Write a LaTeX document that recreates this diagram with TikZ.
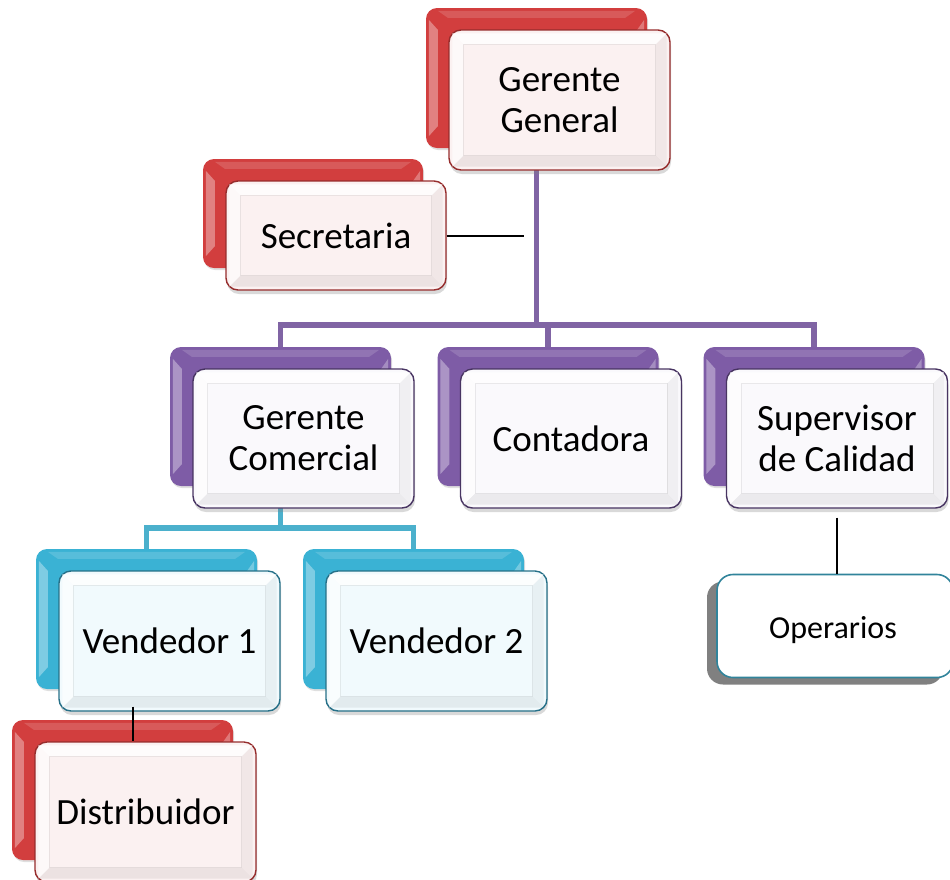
\documentclass[tikz,border=0pt]{standalone}
\usepackage{fontspec}
\setmainfont{Carlito}
\usetikzlibrary{calc,shadows}

\definecolor{redback}{RGB}{210,62,62}
\definecolor{redline}{RGB}{150,45,45}
\definecolor{redfill}{RGB}{251,241,241}
\definecolor{purpback}{RGB}{126,92,166}
\definecolor{purpline}{RGB}{72,52,98}
\definecolor{purpfill}{RGB}{250,249,252}
\definecolor{cyanback}{RGB}{58,178,212}
\definecolor{cyanline}{RGB}{38,112,136}
\definecolor{cyanfill}{RGB}{241,250,253}
\definecolor{opline}{RGB}{49,132,155}
\definecolor{linkpurple}{RGB}{128,100,164}
\definecolor{linkcyan}{RGB}{75,176,204}

\pgfdeclarelayer{links}
\pgfsetlayers{links,main}

\tikzset{
  plate/.style={rectangle, rounded corners=11pt, inner sep=0pt, draw=none,
    drop shadow={shadow xshift=1pt, shadow yshift=-2pt, opacity=0.25}},
  card/.style={rectangle, rounded corners=12pt, inner sep=0pt, line width=1.4pt,
    drop shadow={shadow xshift=1pt, shadow yshift=-4pt, opacity=0.3}},
  cardtext/.style={align=center, inner sep=0pt, font=\fontsize{37}{41}\selectfont},
  smallcard/.style={rectangle, rounded corners=16pt, inner sep=0pt, line width=1.6pt,
    draw=opline, fill=white,
    drop shadow={shadow xshift=-10pt, shadow yshift=-7pt, opacity=1, fill=black!50}},
  smalltext/.style={inner sep=0pt, font=\fontsize{32}{36}\selectfont},
  trunk/.style={line width=5.5pt, linkpurple},
  branch/.style={line width=5.5pt, linkcyan},
  tie/.style={line width=1.5pt, black},
}

% raised edge inside a card: light top/left, shaded bottom/right
\newcommand\cardbevel[1]{%
  \fill[white, opacity=0.8] ($(#1.north west)+(4,4)$) -- ($(#1.north east)+(-4,4)$)
    -- ($(#1.north east)+(-15,15)$) -- ($(#1.north west)+(15,15)$) -- cycle;
  \fill[white, opacity=0.6] ($(#1.north west)+(4,4)$) -- ($(#1.south west)+(4,-4)$)
    -- ($(#1.south west)+(15,-15)$) -- ($(#1.north west)+(15,15)$) -- cycle;
  \fill[black, opacity=0.06] ($(#1.south west)+(4,-4)$) -- ($(#1.south east)+(-4,-4)$)
    -- ($(#1.south east)+(-15,-15)$) -- ($(#1.south west)+(15,-15)$) -- cycle;
  \fill[black, opacity=0.04] ($(#1.north east)+(-4,4)$) -- ($(#1.south east)+(-4,-4)$)
    -- ($(#1.south east)+(-15,-15)$) -- ($(#1.north east)+(-15,15)$) -- cycle;
  \draw[black, opacity=0.07, line width=0.6pt] ($(#1.north west)+(15,15)$) rectangle ($(#1.south east)+(-15,-15)$);
}

% glossy edge on a coloured plate
\newcommand\platebevel[1]{%
  \fill[white, opacity=0.35] ($(#1.north west)+(3,12)$) -- ($(#1.north west)+(12,22)$)
    -- ($(#1.south west)+(12,-22)$) -- ($(#1.south west)+(3,-12)$) -- cycle;
  \fill[white, opacity=0.3] ($(#1.north east)+(-3,12)$) -- ($(#1.north east)+(-10,22)$)
    -- ($(#1.south east)+(-10,-22)$) -- ($(#1.south east)+(-3,-12)$) -- cycle;
  \fill[white, opacity=0.15] ($(#1.north west)+(12,3)$) -- ($(#1.north east)+(-12,3)$)
    -- ($(#1.north east)+(-22,10)$) -- ($(#1.north west)+(22,10)$) -- cycle;
}

% #1 name, #2 x, #3 y, #4 width, #5 height, #6 plate, #7 border, #8 fill, #9 text
\newcommand\orgunit[9]{%
  \node[plate, fill=#6, minimum width=#4pt, minimum height=#5pt] (#1-back) at (#2-23,#3-22) {};
  \platebevel{#1-back}
  \node[card, draw=#7, fill=#8, minimum width=#4pt, minimum height=#5pt] (#1) at (#2,#3) {};
  \cardbevel{#1}
  \node[cardtext] (#1-label) at (#1) {#9};
}

\begin{document}
\begin{tikzpicture}[x=1pt, y=-1pt]
  \useasboundingbox (0,0) rectangle (950,879);

  % units, top to bottom
  \orgunit{gg}{559.5}{100}{221}{140}{redback}{redline}{redfill}{Gerente\\General}
  \orgunit{sec}{336}{235.5}{220}{109}{redback}{redline}{redfill}{Secretaria}
  \orgunit{gc}{303.5}{438.5}{221}{139}{purpback}{purpline}{purpfill}{Gerente\\Comercial}
  \orgunit{con}{571}{438.5}{221}{139}{purpback}{purpline}{purpfill}{Contadora}
  \orgunit{sup}{837}{438.5}{221}{139}{purpback}{purpline}{purpfill}{Supervisor\\de Calidad}
  \orgunit{v1}{169.5}{641}{221}{140}{cyanback}{cyanline}{cyanfill}{Vendedor 1}
  \orgunit{v2}{436.5}{641}{221}{140}{cyanback}{cyanline}{cyanfill}{Vendedor 2}
  \orgunit{dis}{145.5}{812}{221}{140}{redback}{redline}{redfill}{Distribuidor}

  \node[smallcard, minimum width=236pt, minimum height=103pt] (op) at (835,626) {};
  \node[smalltext] (op-label) at (833,630) {Operarios};

  % connectors behind the units
  \begin{pgfonlayer}{links}
    \draw[trunk] (gg-back.south) -- (gg-back.south |- 0,325);
    \draw[trunk, line join=miter] (gc-back.north) -- (gc-back.north |- 0,325)
      -- (sup-back.north |- 0,325) -- (sup-back.north);
    \draw[trunk] (con-back.north) -- (con-back.north |- 0,325);
    \draw[branch] (gc-back.south) -- (gc-back.south |- 0,528);
    \draw[branch, line join=miter] (v1-back.north) -- (v1-back.north |- 0,528)
      -- (v2-back.north |- 0,528) -- (v2-back.north);
  \end{pgfonlayer}

  % thin ties
  \coordinate (secend) at (524,236);
  \draw[tie] (sec.east |- secend) -- (secend);
  \draw[tie] ($(v1.south)+(-36.5,-5)$) -- (dis.north -| 133,0);
  \draw[tie] ($(sup.south)+(0,9)$) -- (op.north -| sup.south);
\end{tikzpicture}
\end{document}
